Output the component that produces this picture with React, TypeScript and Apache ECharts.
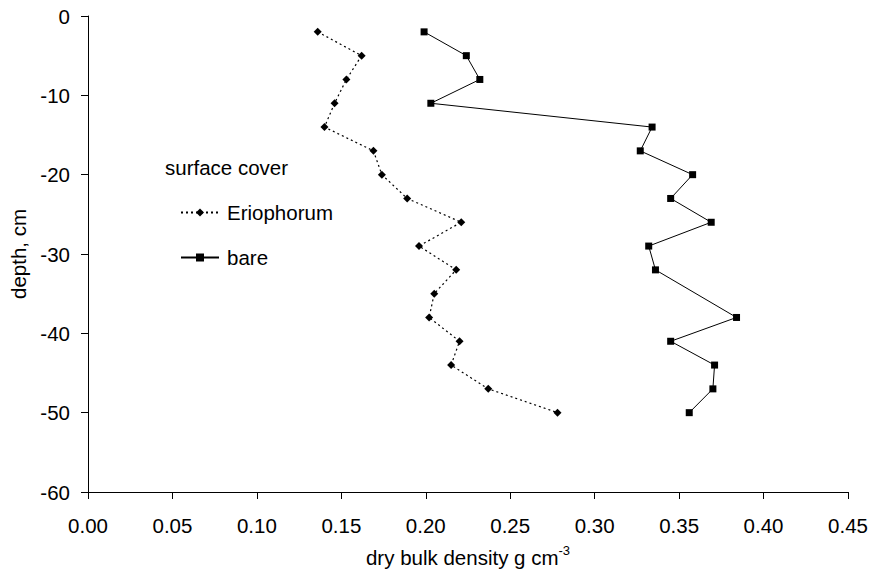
import React, { useEffect, useRef } from "react";
import * as echarts from "echarts";

const depths = [-2, -5, -8, -11, -14, -17, -20, -23, -26, -29, -32, -35, -38, -41, -44, -47, -50];
const eriophorum = [0.136, 0.162, 0.153, 0.146, 0.14, 0.169, 0.174, 0.189, 0.221, 0.196, 0.218, 0.205, 0.202, 0.22, 0.215, 0.237, 0.278];
const bareDepths = [-2, -5, -8, -11, -14, -17, -20, -23, -26, -29, -32, -38, -41, -44, -47, -50];
const bare = [0.199, 0.224, 0.232, 0.203, 0.334, 0.327, 0.358, 0.345, 0.369, 0.332, 0.336, 0.384, 0.345, 0.371, 0.37, 0.356];
const xTicks = { min: 0, max: 0.45, interval: 0.05 };
const yTicks = { min: -60, max: 0, interval: 10 };

const FONT = "Liberation Sans, Arial, sans-serif";
const FS = 20.5;

export default function App() {
  const ref = useRef<HTMLDivElement>(null);
  useEffect(() => {
    if (!ref.current) return;
    const chart = echarts.init(ref.current, undefined, { renderer: "svg" });
    chart.setOption({
      animation: false,
      backgroundColor: "#fff",
      textStyle: { fontFamily: FONT, color: "#000" },
      grid: { left: 88, right: 28, top: 16, bottom: 90, containLabel: false },
      graphic: [
        {
          type: "text",
          left: 165,
          top: 157,
          style: { text: "surface cover", font: `${FS}px ${FONT}`, fill: "#000" },
        },
      ],
      legend: {
        orient: "vertical",
        left: 175,
        top: 197,
        itemWidth: 38,
        itemHeight: 10,
        itemGap: 24,
        textStyle: { fontSize: FS, fontFamily: FONT, color: "#000", padding: [0, 0, 0, 3] },
        data: [{ name: "Eriophorum" }, { name: "bare" }],
      },
      xAxis: {
        type: "value",
        min: xTicks.min,
        max: xTicks.max,
        interval: xTicks.interval,
        position: "bottom",
        axisLine: { onZero: false, lineStyle: { color: "#000", width: 1 } },
        axisTick: { show: true, length: 7, lineStyle: { color: "#000" } },
        splitLine: { show: false },
        axisLabel: { fontSize: FS, color: "#000", fontFamily: FONT, margin: 23, formatter: (v: number) => v.toFixed(2) },
        name: "{a|dry bulk density g cm}{s|-3}",
        nameLocation: "middle",
        nameGap: 52,
        nameTextStyle: {
          rich: {
            a: { fontSize: FS, fontFamily: FONT, color: "#000", verticalAlign: "bottom", lineHeight: 24 },
            s: { fontSize: 13, fontFamily: FONT, color: "#000", verticalAlign: "top", lineHeight: 24, padding: [0, 0, 12, 0] },
          },
        },
      },
      yAxis: {
        type: "value",
        min: yTicks.min,
        max: yTicks.max,
        interval: yTicks.interval,
        axisLine: { onZero: false, lineStyle: { color: "#000", width: 1 } },
        axisTick: { show: true, length: 7, lineStyle: { color: "#000" } },
        splitLine: { show: false },
        axisLabel: { fontSize: FS, color: "#000", fontFamily: FONT, margin: 18 },
        name: "depth, cm",
        nameLocation: "middle",
        nameGap: 59,
        nameTextStyle: { fontSize: FS, fontFamily: FONT, color: "#000" },
      },
      series: [
        {
          name: "Eriophorum",
          type: "line",
          data: eriophorum.map((v, i) => [v, depths[i]]),
          symbol: "diamond",
          symbolSize: 8,
          itemStyle: { color: "#000" },
          lineStyle: { color: "#000", width: 1.2, type: [2, 3] },
        },
        {
          name: "bare",
          type: "line",
          data: bare.map((v, i) => [v, bareDepths[i]]),
          symbol: "rect",
          symbolSize: 7,
          itemStyle: { color: "#000" },
          lineStyle: { color: "#000", width: 1 },
        },
      ],
    });
    return () => chart.dispose();
  }, []);
  return <div ref={ref} style={{ position: "fixed", left: 0, top: 0, width: 876, height: 582 }} />;
}
